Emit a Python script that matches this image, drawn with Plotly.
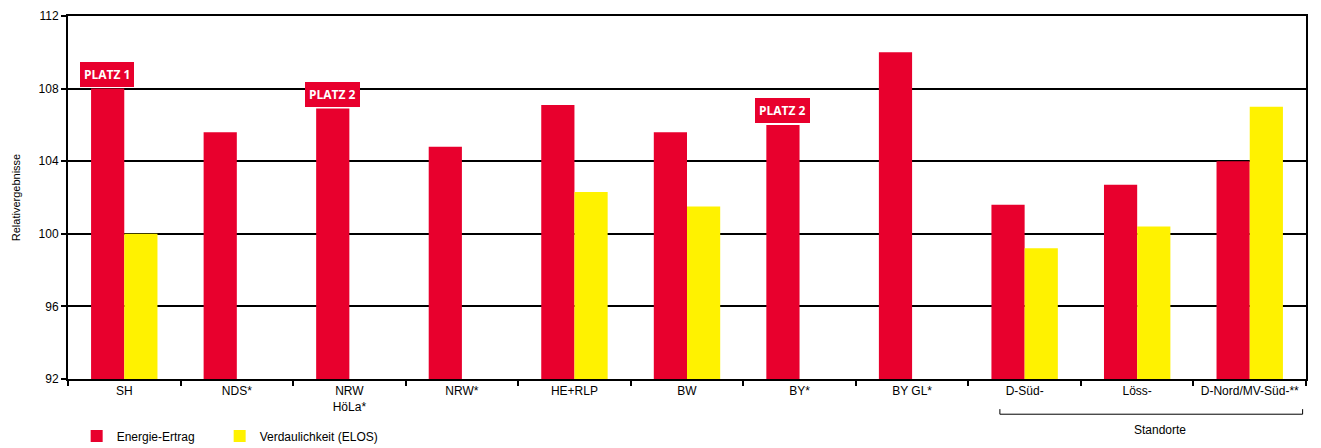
import plotly.graph_objects as go

categories = ["SH", "NDS*", "NRW<br>HöLa*", "NRW*", "HE+RLP", "BW", "BY*", "BY GL*",
              "D-Süd-", "Löss-", "D-Nord/MV-Süd-**"]
energie = [108.0, 105.6, 106.9, 104.8, 107.1, 105.6, 106.0, 110.0, 101.6, 102.7, 104.0]
elos = [100.0, None, None, None, 102.3, 101.5, None, None, 99.2, 100.4, 107.0]
platz_cats = ["SH", "NRW<br>HöLa*", "BY*"]
platz_labels = ["PLATZ 1", "PLATZ 2", "PLATZ 2"]

RED = "#E8002D"
YELLOW = "#FFF200"
FONT = "Liberation Sans, Arial, sans-serif"

fig = go.Figure()
fig.add_trace(go.Bar(x=categories, y=energie, name="Energie-Ertrag", legend="legend",
                     marker=dict(color=RED, line=dict(width=0))))
fig.add_trace(go.Bar(x=categories, y=elos, name="Verdaulichkeit (ELOS)", legend="legend2",
                     marker=dict(color=YELLOW, line=dict(width=0))))

for c, lab in zip(platz_cats, platz_labels):
    v = energie[categories.index(c)]
    fig.add_annotation(x=c, y=v, xref="x", yref="y", text="<b>" + lab + "</b>",
                       showarrow=False, xshift=-17, yshift=14,
                       bgcolor=RED, bordercolor=RED, borderpad=3,
                       font=dict(color="white", size=12, family="Open Sans, Noto Sans, sans-serif"))

# Standorte bracket
fig.add_shape(type="path", xref="x", yref="paper",
              path="M 7.78 -0.083 L 7.78 -0.097 L 10.47 -0.097 L 10.47 -0.083",
              line=dict(color="black", width=1))
fig.add_annotation(x=9.2, y=-0.14, xref="x", yref="paper", text="Standorte",
                   yanchor="middle", xanchor="center",
                   showarrow=False, font=dict(size=12, color="black", family=FONT))

legend_common = dict(orientation="h", y=-0.157, xanchor="left", yanchor="middle",
                     font=dict(size=12, family=FONT), itemwidth=30,
                     bgcolor="rgba(0,0,0,0)")

fig.update_layout(
    width=1313, height=440,
    margin=dict(l=60, r=15, t=8, b=69, autoexpand=False),
    plot_bgcolor="white", paper_bgcolor="white",
    barmode="group", bargap=0.41, bargroupgap=0,
    font=dict(family=FONT, size=12, color="black"),
    showlegend=True,
    legend=dict(x=0.007, **legend_common),
    legend2=dict(x=0.1225, **legend_common),
    xaxis=dict(type="category", showline=True, linecolor="black", linewidth=2, mirror=True,
               ticks="outside", tickson="boundaries", ticklen=5, tickcolor="black", tickwidth=1.5,
               showgrid=False, tickfont=dict(size=12), range=[-0.5, 10.5], automargin=False),
    yaxis=dict(range=[92, 112], dtick=4, tick0=92, showline=True, linecolor="black", linewidth=2,
               mirror=True, ticks="outside", ticklen=5, tickcolor="black", tickwidth=1.5,
               showgrid=True, gridcolor="black", gridwidth=1.5, zeroline=False,
               tickfont=dict(size=12), automargin=False,
               title=dict(text="Relativergebnisse", font=dict(size=11), standoff=16)),
)

fig.write_html("out.html")
